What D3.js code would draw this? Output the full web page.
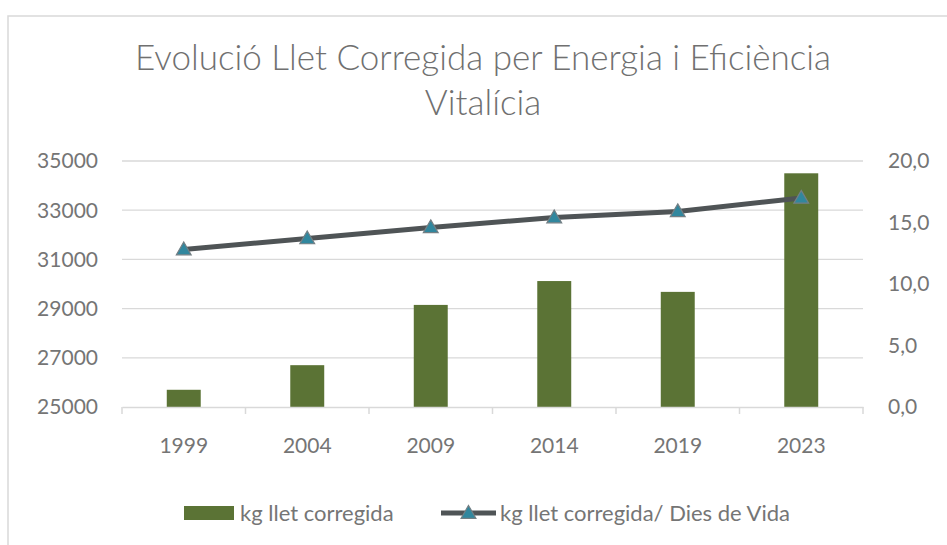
<!DOCTYPE html>
<html>
<head>
<meta charset="utf-8">
<script src="https://cdn.jsdelivr.net/npm/d3@7"></script>
<style>
  body { margin: 0; background: #fff; }
  svg text { font-family: Lato, 'Open Sans', sans-serif; fill: #757575; }
</style>
</head>
<body>
<svg id="chart" width="947" height="545"></svg>
<script>
const years = ['1999', '2004', '2009', '2014', '2019', '2023']
const milk = [25700, 26700, 29150, 30120, 29680, 34500]
const perDay = [12.8, 13.7, 14.6, 15.4, 15.9, 17.0]
const leftTicks = [25000, 27000, 29000, 31000, 33000, 35000]
const rightTicks = [0, 5, 10, 15, 20]
const titleLines = ['Evolució Llet Corregida per Energia i Eficiència', 'Vitalícia']
const seriesNames = ['kg llet corregida', 'kg llet corregida/ Dies de Vida']

const size = { width: 947, height: 545 }
const margin = { top: 161, bottom: 138, left: 122, right: 84 }
const plotW = size.width - margin.left - margin.right
const plotH = size.height - margin.top - margin.bottom

const barColor = '#5b7335'
const lineColor = '#4f5456'
const markerFill = '#31879e'
const markerStroke = '#737f84'
const gridColor = '#d9d9d9'

const svg = d3.select('#chart')

// chart frame
svg.append('rect')
  .attr('x', 8).attr('y', 16)
  .attr('width', size.width).attr('height', size.height)
  .attr('fill', 'none')
  .attr('stroke', gridColor)
  .attr('stroke-width', 1.5)

svg.append('g')
  .selectAll('text')
  .data(titleLines)
  .join('text')
  .attr('x', 483)
  .attr('y', (d, i) => 70 + i * 45)
  .attr('text-anchor', 'middle')
  .style('font-size', '35px')
  .style('font-weight', 300)
  .style('fill', '#707070')
  .text(d => d)

const canvas = svg.append('g')
  .attr('transform', `translate(${margin.left},${margin.top})`)

const x = d3.scaleBand()
  .domain(years)
  .range([0, plotW])
  .paddingInner(0.725)
  .paddingOuter(0.3625)

const yL = d3.scaleLinear().domain([25000, 35000]).range([plotH, 0])
const yR = d3.scaleLinear().domain([0, 20]).range([plotH, 0])

// gridlines
canvas.append('g')
  .selectAll('line')
  .data(leftTicks.slice(1))
  .join('line')
  .attr('x1', 0).attr('x2', plotW)
  .attr('y1', d => yL(d)).attr('y2', d => yL(d))
  .attr('stroke', gridColor)
  .attr('stroke-width', 1.3)

// left axis labels
canvas.append('g')
  .selectAll('text')
  .data(leftTicks)
  .join('text')
  .attr('x', -24)
  .attr('y', d => yL(d))
  .attr('dy', '0.35em')
  .attr('text-anchor', 'end')
  .style('font-size', '21px')
  .text(d => d)

// right axis labels
const fmtR = v => d3.format('.1f')(v).replace('.', ',')
canvas.append('g')
  .selectAll('text')
  .data(rightTicks)
  .join('text')
  .attr('x', plotW + 25)
  .attr('y', d => yR(d))
  .attr('dy', '0.35em')
  .attr('text-anchor', 'start')
  .style('font-size', '21px')
  .text(fmtR)

// bars
canvas.append('g')
  .selectAll('rect')
  .data(milk)
  .join('rect')
  .attr('x', (d, i) => x(years[i]))
  .attr('width', x.bandwidth())
  .attr('y', d => yL(d))
  .attr('height', d => plotH - yL(d))
  .attr('fill', barColor)

// x axis
const xAxis = d3.axisBottom(x).tickSize(0).tickPadding(31)
const xg = canvas.append('g')
  .attr('transform', `translate(0,${plotH})`)
  .call(xAxis)
xg.select('.domain').attr('stroke', gridColor).attr('stroke-width', 1.5)
xg.selectAll('text')
  .style('font-size', '21px')
  .style('font-family', 'Lato, sans-serif')
  .attr('fill', '#757575')
const step = x.step()
xg.append('g')
  .selectAll('line')
  .data(d3.range(years.length + 1))
  .join('line')
  .attr('x1', i => i * step).attr('x2', i => i * step)
  .attr('y1', 0).attr('y2', 7)
  .attr('stroke', gridColor)
  .attr('stroke-width', 1.5)

// line series
const cx = (d, i) => x(years[i]) + x.bandwidth() / 2
const line = d3.line()
  .x(cx)
  .y(d => yR(d))
canvas.append('path')
  .datum(perDay)
  .attr('d', line)
  .attr('fill', 'none')
  .attr('stroke', lineColor)
  .attr('stroke-width', 5)

const tri = d3.symbol().type(d3.symbolTriangle).size(95)
canvas.append('g')
  .selectAll('path')
  .data(perDay)
  .join('path')
  .attr('d', tri)
  .attr('transform', (d, i) => `translate(${cx(d, i)},${yR(d) + 1})`)
  .attr('fill', markerFill)
  .attr('stroke', markerStroke)
  .attr('stroke-width', 1.2)

// legend
const legend = svg.append('g').attr('transform', 'translate(0,513)')
legend.append('rect')
  .attr('x', 184).attr('y', -7)
  .attr('width', 50).attr('height', 14)
  .attr('fill', barColor)
legend.append('text')
  .attr('x', 240).attr('dy', '0.35em')
  .style('font-size', '22px')
  .text(seriesNames[0])
legend.append('line')
  .attr('x1', 441).attr('x2', 496)
  .attr('stroke', lineColor)
  .attr('stroke-width', 5)
legend.append('path')
  .attr('d', tri)
  .attr('transform', 'translate(468.5,1)')
  .attr('fill', markerFill)
  .attr('stroke', markerStroke)
  .attr('stroke-width', 1.2)
legend.append('text')
  .attr('x', 500).attr('dy', '0.35em')
  .style('font-size', '22px')
  .text(seriesNames[1])
</script>
</body>
</html>
